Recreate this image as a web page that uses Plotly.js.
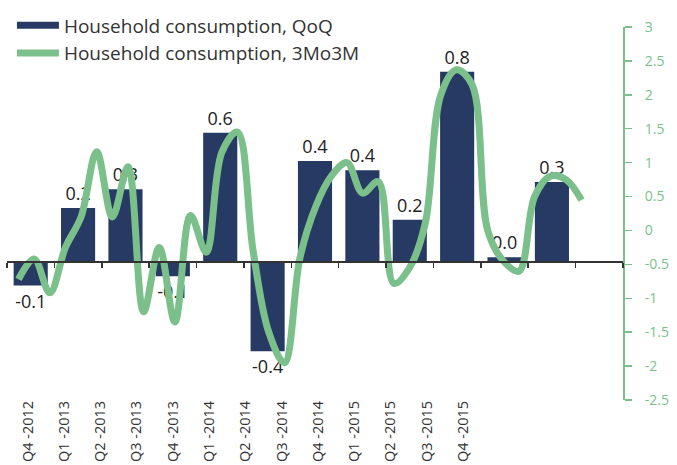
<!DOCTYPE html>
<html>
<head>
<meta charset="utf-8">
<script src="https://cdn.plot.ly/plotly-3.0.1.min.js"></script>
<style>html,body{margin:0;padding:0;background:#fff;}#chart{width:677px;height:465px;}</style>
</head>
<body>
<div id="chart"></div>
<script>
// Quarterly household consumption, QoQ (%)
const quarters = ['Q4 -2012','Q1 -2013','Q2 -2013','Q3 -2013','Q4 -2013','Q1 -2014','Q2 -2014','Q3 -2014','Q4 -2014','Q1 -2015','Q2 -2015','Q3 -2015','Q4 -2015'];
const qoq = [-0.10, 0.23, 0.31, -0.06, 0.55, -0.38, 0.43, 0.39, 0.18, 0.81, 0.02, 0.34, null];

// Monthly household consumption, 3Mo3M (%)
const months = ['Oct-12','Nov-12','Dec-12','Jan-13','Feb-13','Mar-13','Apr-13','May-13','Jun-13','Jul-13','Aug-13','Sep-13','Oct-13','Nov-13','Dec-13',
  'Jan-14','Feb-14','Mar-14','Apr-14','May-14','Jun-14','Jul-14','Aug-14','Sep-14','Oct-14','Nov-14','Dec-14',
  'Jan-15','Feb-15','Mar-15','Apr-15','May-15','Jun-15','Jul-15','Aug-15','Sep-15','Oct-15'];
const mo3m = [-0.72,-0.42,-0.92,-0.25,0.2,1.16,0.2,0.94,-1.2,-0.25,-1.35,0.22,-0.32,1.15,1.45,
  -0.3,-1.5,-1.95,-0.4,0.35,0.8,1.0,0.55,0.72,-0.78,-0.55,0.1,
  2.0,2.37,2.15,0.0,-0.45,-0.6,0.5,0.8,0.75,0.45];

// Right axis ticks
const rightTickVals = [3,2.5,2,1.5,1,0.5,0,-0.5,-1,-1.5,-2,-2.5];
const rightTickText = ['3','2.5','2','1.5','1','0.5','0','-0.5','-1','-1.5','-2','-2.5'];

const NAVY = '#273a63';
const GREEN = '#7bbf8b';
const FONT = 'Open Sans, Lato, sans-serif';

const yMin = -0.587, yMax = 1.0;

const traces = [
  {
    type: 'bar', x: quarters, y: qoq, xaxis: 'x', yaxis: 'y',
    marker: {color: NAVY}, width: 0.72,
    text: qoq.map(v => v === null ? '' : v.toFixed(1)),
    textposition: 'outside', cliponaxis: false, constraintext: 'none',
    textfont: {family: FONT, size: 18, color: '#222'},
    showlegend: false, hoverinfo: 'skip'
  },
  {
    type: 'scatter', mode: 'lines', x: months, y: mo3m, xaxis: 'x3', yaxis: 'y2',
    line: {color: GREEN, width: 7, shape: 'spline', smoothing: 1},
    name: 'Household consumption, 3Mo3M', showlegend: false, hoverinfo: 'skip'
  },
  {
    type: 'scatter', mode: 'lines', x: [quarters[0]], y: [null], xaxis: 'x', yaxis: 'y',
    line: {color: NAVY, width: 7}, name: 'Household consumption, QoQ', hoverinfo: 'skip'
  },
  {
    type: 'scatter', mode: 'lines', x: [quarters[0]], y: [null], xaxis: 'x', yaxis: 'y',
    line: {color: GREEN, width: 7}, name: 'Household consumption, 3Mo3M', hoverinfo: 'skip'
  },
  {
    type: 'scatter', mode: 'markers', x: [0], y: [null], xaxis: 'x2', yaxis: 'y',
    showlegend: false, hoverinfo: 'skip'
  }
];

const layout = {
  width: 677, height: 465,
  margin: {l: 7, r: 54, t: 27, b: 65},
  paper_bgcolor: '#fff', plot_bgcolor: '#fff',
  font: {family: FONT, color: '#333'},
  showlegend: true,
  legend: {
    x: 0.008, y: 1.055, xanchor: 'left', yanchor: 'top',
    bgcolor: 'rgba(0,0,0,0)', font: {family: FONT, size: 19, color: '#333'},
    itemwidth: 42, traceorder: 'normal'
  },
  xaxis: {
    type: 'category', domain: [0, 1], anchor: 'free', position: (0 - yMin) / (yMax - yMin),
    showticklabels: false, ticks: 'outside', tickson: 'boundaries', ticklen: 5, tickwidth: 1.5, tickcolor: '#333',
    showline: true, linecolor: '#333', linewidth: 2, showgrid: false, zeroline: false, fixedrange: true
  },
  xaxis2: {
    overlaying: 'x', anchor: 'free', position: 0, side: 'bottom',
    range: [-0.579, 16.41], tickmode: 'array', tickvals: quarters.map((q, i) => i), ticktext: quarters,
    tickangle: -90, tickfont: {family: FONT, size: 14.5, color: '#333'}, ticklabelstandoff: -3,
    showline: false, ticks: '', showgrid: false, zeroline: false
  },
  xaxis3: {
    type: 'category', overlaying: 'x', range: [-0.735, 38.65], visible: false
  },
  yaxis: {
    range: [yMin, yMax], visible: false, showgrid: false, zeroline: false, domain: [0, 1]
  },
  yaxis2: {
    overlaying: 'y', side: 'right', anchor: 'x', range: [-2.5, 3],
    tickmode: 'array', tickvals: rightTickVals, ticktext: rightTickText,
    showline: true, linecolor: GREEN, linewidth: 2,
    ticks: 'outside', ticklen: 7, tickwidth: 1.5, tickcolor: GREEN, ticklabelstandoff: 10,
    tickfont: {family: FONT, size: 14, color: GREEN},
    showgrid: false, zeroline: false
  },
  bargap: 0.28
};

Plotly.newPlot('chart', traces, layout, {staticPlot: true, displayModeBar: false});
</script>
</body>
</html>
